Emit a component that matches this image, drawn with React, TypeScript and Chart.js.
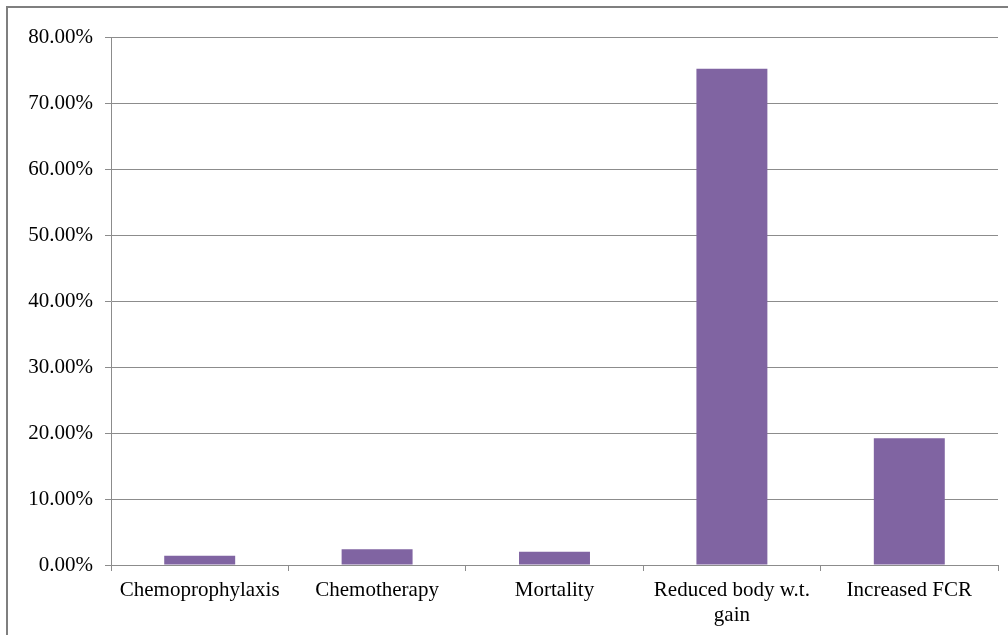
import React, { useEffect, useRef } from "react";
import { Chart, registerables } from "chart.js";

Chart.register(...registerables);

// Share of responses per impact category (percent)
const categories: (string | string[])[] = [
  "Chemoprophylaxis",
  "Chemotherapy",
  "Mortality",
  ["Reduced body w.t.", "gain"],
  "Increased FCR",
];
const percentages: number[] = [1.4, 2.4, 2.0, 75.2, 19.2];
const yTicks: number[] = [0, 10, 20, 30, 40, 50, 60, 70, 80];

const BAR_COLOR = "#8064A2";
const LINE_COLOR = "#8C8C8C";
const FONT = { family: "'Liberation Serif', 'Times New Roman', serif", size: 21 };

export default function App() {
  const canvasRef = useRef<HTMLCanvasElement | null>(null);

  useEffect(() => {
    const canvas = canvasRef.current;
    if (!canvas) return;
    const chart = new Chart(canvas, {
      type: "bar",
      data: {
        labels: categories,
        datasets: [
          {
            data: percentages,
            backgroundColor: BAR_COLOR,
            borderWidth: 0,
            categoryPercentage: 0.4,
            barPercentage: 1,
          },
        ],
      },
      options: {
        animation: false,
        responsive: false,
        layout: { padding: { left: 0, right: 10, top: 37, bottom: 0 } },
        plugins: {
          legend: { display: false },
          tooltip: { enabled: false },
        },
        scales: {
          x: {
            offset: true,
            grid: {
              offset: true,
              drawOnChartArea: false,
              drawTicks: true,
              tickLength: 6,
              color: LINE_COLOR,
            },
            border: { color: LINE_COLOR },
            ticks: {
              color: "#000",
              font: { ...FONT, lineHeight: 1.2 },
              padding: 7,
              maxRotation: 0,
              autoSkip: false,
            },
            afterFit: (scale: any) => {
              scale.height = 70;
            },
          },
          y: {
            min: 0,
            max: 80,
            afterBuildTicks: (scale: any) => {
              scale.ticks = yTicks.map((v) => ({ value: v }));
            },
            grid: {
              color: LINE_COLOR,
              tickLength: 6,
            },
            border: { color: LINE_COLOR },
            ticks: {
              color: "#000",
              font: FONT,
              padding: 12,
              callback: (v: any) => Number(v).toFixed(2) + "%",
            },
            afterFit: (scale: any) => {
              scale.width = 111;
            },
          },
        },
      },
    });
    return () => chart.destroy();
  }, []);

  return (
    <div
      style={{
        position: "fixed",
        left: 0,
        top: 0,
        width: 1008,
        height: 635,
        background: "#fff",
      }}
    >
      <canvas ref={canvasRef} width={1008} height={635} style={{ display: "block" }} />
      <div
        style={{
          position: "absolute",
          left: 6,
          top: 6,
          width: 1002,
          height: 629,
          borderTop: "2px solid #7F7F7F",
          borderLeft: "2px solid #7F7F7F",
          boxSizing: "border-box",
          pointerEvents: "none",
        }}
      />
    </div>
  );
}
